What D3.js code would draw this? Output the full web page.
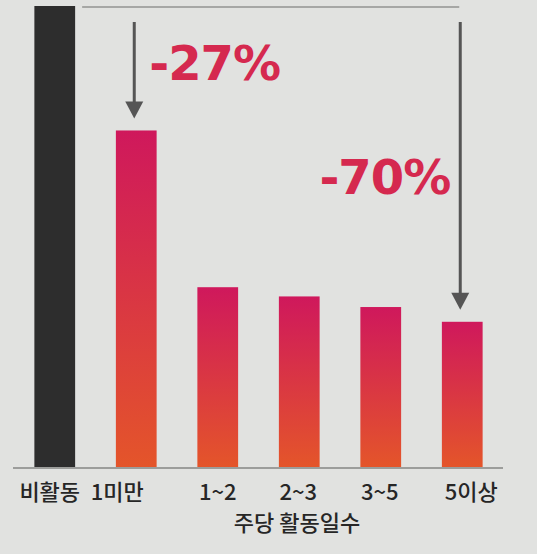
<!DOCTYPE html>
<meta charset="utf-8">
<head>
<script src="https://d3js.org/d3.v7.min.js"></script>
<style>
  body { margin: 0; background: #e1e2e0; }
</style>
</head>
<body>
<div id="my_dataviz"></div>
<script>

    // data (inactive group = 100)
    var categories = ["비활동", "1미만", "1~2", "2~3", "3~5", "5이상"];
    var values = [100, 73, 39, 37, 34.7, 31.5];
    var dropLabels = ["-27%", "-70%"];
    var axisTitle = "주당 활동일수";

    // small nudges for the tick labels, as in the original
    var labelDx = [-5, -19, 0, -1, -1, 9];

    var width = 537, height = 554;

    var svg = d3.select("#my_dataviz")
      .append("svg")
        .attr("width", width)
        .attr("height", height);

    var defs = svg.append("defs");
    var grad = defs.append("linearGradient")
        .attr("id", "barGrad")
        .attr("x1", 0).attr("y1", 0).attr("x2", 0).attr("y2", 1);
    grad.append("stop").attr("offset", "0%").attr("stop-color", "#cf185c");
    grad.append("stop").attr("offset", "100%").attr("stop-color", "#e4552a");

    // scales
    var x = d3.scaleBand()
      .domain(categories)
      .range([14, 503])
      .paddingInner(0.5)
      .paddingOuter(0.25);

    var y = d3.scaleLinear()
      .domain([0, 100])
      .range([467, 6]);

    // bars
    svg.append("g")
      .selectAll("rect")
      .data(values)
      .enter()
      .append("rect")
        .attr("x", function(d, i) { return x(categories[i]); })
        .attr("y", function(d) { return y(d); })
        .attr("width", x.bandwidth())
        .attr("height", function(d) { return y(0) - y(d); })
        .style("fill", function(d, i) { return i === 0 ? "#2d2d2d" : "url(#barGrad)"; });

    // baseline
    svg.append("line")
      .attr("x1", 13).attr("x2", 503)
      .attr("y1", y(0) + 1).attr("y2", y(0) + 1)
      .style("stroke", "#9c9d9b")
      .style("stroke-width", 2);

    // reference line at the inactive level
    var c0 = categories[0], cLast = categories[categories.length - 1];
    svg.append("line")
      .attr("x1", x(c0) + x.bandwidth() + 7)
      .attr("x2", x(cLast) + x.bandwidth() / 2 - 3)
      .attr("y1", y(values[0]) + 1).attr("y2", y(values[0]) + 1)
      .style("stroke", "#a6a7a5")
      .style("stroke-width", 2);

    // drop arrows
    var arrowIdx = [1, categories.length - 1];
    var ax = function(i) { return x(categories[i]) + x.bandwidth() / 2 - 2; };
    var tip = function(i) { return y(values[i]) - 12; };
    var arrows = svg.append("g")
      .selectAll("g")
      .data(arrowIdx)
      .enter()
      .append("g");
    arrows.append("line")
        .attr("x1", ax).attr("x2", ax)
        .attr("y1", y(values[0]) + 16)
        .attr("y2", function(i) { return tip(i) - 14; })
        .style("stroke", "#555")
        .style("stroke-width", 3);
    arrows.append("path")
        .attr("d", function(i) {
          var cx = ax(i), ty = tip(i);
          return "M" + (cx - 9) + "," + (ty - 17) + "L" + (cx + 9) + "," + (ty - 17) + "L" + cx + "," + ty + "Z";
        })
        .style("fill", "#555");

    // drop labels
    svg.append("text")
      .attr("x", x(categories[1]) + x.bandwidth() / 2 + 13)
      .attr("y", 80)
      .style("font-family", "'DejaVu Sans'")
      .style("font-size", "48px")
      .style("font-weight", "bold")
      .style("letter-spacing", "-1px")
      .style("fill", "#d5294f")
      .text(dropLabels[0]);

    svg.append("text")
      .attr("x", x(cLast) + x.bandwidth() / 2 - 12)
      .attr("y", 194)
      .attr("text-anchor", "end")
      .style("font-family", "'DejaVu Sans'")
      .style("font-size", "48px")
      .style("font-weight", "bold")
      .style("letter-spacing", "-1px")
      .style("fill", "#d5294f")
      .text(dropLabels[1]);

    // category labels
    svg.append("g")
      .selectAll("text")
      .data(categories)
      .enter()
      .append("text")
        .attr("x", function(d, i) { return x(d) + x.bandwidth() / 2 + labelDx[i]; })
        .attr("y", 500)
        .attr("text-anchor", "middle")
        .style("font-family", "'Noto Sans CJK KR'")
        .style("font-size", "22px")
        .style("font-weight", 500)
        .style("fill", "#262626")
        .text(function(d) { return d; });

    // axis title
    svg.append("text")
      .attr("x", 297)
      .attr("y", 531)
      .attr("text-anchor", "middle")
      .style("font-family", "'Noto Sans CJK KR'")
      .style("font-size", "22px")
      .style("font-weight", 500)
      .style("fill", "#262626")
      .text(axisTitle);

</script>
</body>
</html>
